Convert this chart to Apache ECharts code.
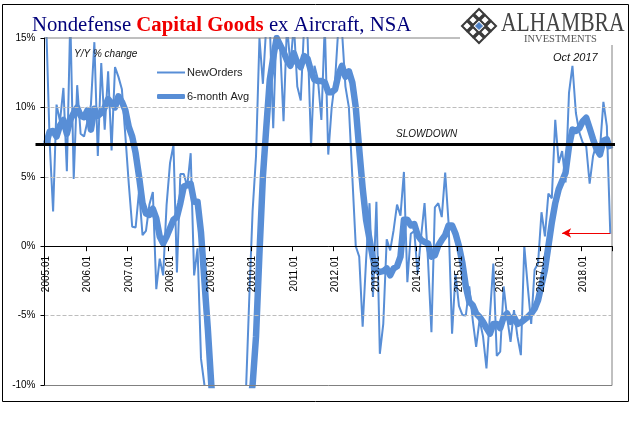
<!DOCTYPE html>
<html><head><meta charset="utf-8">
<style>html,body{margin:0;padding:0;background:#fff}#c{width:641px;height:421px}</style>
<script src="https://cdn.jsdelivr.net/npm/echarts@6/dist/echarts.min.js"></script>
</head><body><div id="c"></div>
<script>
const years=[2005,2006,2007,2008,2009,2010,2011,2012,2013,2014,2015,2016,2017,2018];
const months=['01','02','03','04','05','06','07','08','09','10','11','12'];
const categories=[];
years.forEach(y=>months.forEach(m=>{ if(y<2018||+m<=9) categories.push(y+'.'+m); }));
const yTicks=[-10,-5,0,5,10,15];
const newOrders=[
16,7.5,2.5,10.2,9,11.4,5.4,16.5,4.85,11.6,8.1,7.9,
9,10.2,14.7,6.5,13.2,8.4,12.6,6.9,12.9,12.2,11.3,8,
4.5,1.4,1.35,4,.8,1.1,3,3.9,-3.1,-.9,-2.1,3,
6,7.3,-1.9,5.2,5.2,4.3,6.7,-2.1,-.15,-8.1,-10,-14,
-18,-22,-25,-27,-28,-28,-26,-25,-20,-15,-11,-4,
2.5,6.5,15,11.7,16,16,8.5,16,14.5,9,16,13,
16,11.5,10.5,16,15,7.2,13,12,9.1,16,6.6,10,
12,16,15.5,11.5,10,5,0,-.75,-5.8,-1,3.1,-3.65,
3.2,-7.75,-5.6,.5,-.3,1.15,3,2.2,5.35,-2.6,.9,1.1,
-2,.7,3.1,-1,-6.2,2.8,3.1,2.1,5.3,1.6,-6.3,-2,
-4.3,-4.95,-5,-2.9,-5.3,-7.25,-5.3,-6.5,-8.8,-5,-1.25,-7.9,
-7.6,-2.9,-5.1,-6.9,-4.6,-6.5,-7.85,0,-2.9,-5.6,-1.7,-1.25,
2.45,.7,3.8,3.45,9.1,6,6.85,4.6,11.05,13,9.6,8.2,
7.45,7.2,4.5,6.5,7.4,7,10.4,8.65,.9
];
const avg6=[
7.4,8.25,8.3,7.9,8.7,9.1,8.1,9.1,9.6,10,9.4,9.3,
9.8,8.4,9.9,9.4,9.6,10,10.6,10.3,10,10.8,10.4,9.8,
8.6,7.9,6.7,5,3.1,2.35,2.25,2.7,2,.7,.2,.7,
1.3,1.9,2.1,3.1,4.3,4.4,4.5,3.2,3.2,1,-2.5,-6,
-10,-13,-16,-18,-20,-20,-19,-17,-15.5,-14,-13,-11.5,
-10,-6.5,-.5,5,8.6,12,13.6,15,14.5,14,13.4,13,
13.9,13.2,12.9,13.7,13.5,12.6,12,11.9,11.9,11.8,11.1,11.1,
11.3,12.4,13,12.2,12.6,11.8,10,7,4.2,1.9,.5,-.9,
-1.75,-1.85,-1.8,-1.6,-2.1,-1.6,-1.45,-.75,1.9,1.9,1.5,1.6,
.8,.45,.3,.2,-.75,-.65,.05,.45,.8,1.5,1.5,.9,
0,-1.2,-2.9,-4,-4.25,-4.85,-5.1,-5.45,-5.9,-6.3,-5.6,-5.6,
-5.9,-5.1,-4.85,-5.45,-5.1,-5.6,-5.5,-5.3,-5.1,-4.85,-4.5,-3.9,
-2.8,-1.7,0,1.7,3.1,4.1,4.7,5.3,7.2,8.4,8.3,8.5,
9,9.25,8.5,7.7,7,6.6,7.6,7.7,7
];
const BLUE='#588ed6';
const serif='"Liberation Serif","Times New Roman",serif';
const sans='"Liberation Sans",Arial,sans-serif';
const chart=echarts.init(document.getElementById('c'),null,{renderer:'canvas'});

// Alhambra logo: lattice of small diamonds
const logo=[];
const cx=479,cy=26,s=6;
function dia(x,y,r,style){return {type:'polygon',z:20,shape:{points:[[x,y-r],[x+r,y],[x,y+r],[x-r,y]]},style};}
const dark={fill:'#fff',stroke:'#3a3a3a',lineWidth:2};
[[0,-2],[-1,-1],[1,-1],[-2,0],[2,0],[-1,1],[1,1],[0,2]].forEach(p=>{
  logo.push(dia(cx+p[0]*s+0,cy+p[1]*s,5,dark));
});
logo.push(dia(cx,cy,6.5,{fill:'#fff',stroke:'#3a3a3a',lineWidth:1.5}));
logo.push(dia(cx,cy,3.5,{fill:'#4a7ec4',stroke:'#4a7ec4',lineWidth:1}));

function txt(x,y,t,style,extra){return Object.assign({type:'text',z:30,x,y,style:Object.assign({text:t,fill:'#111',textVerticalAlign:'middle'},style)},extra||{});}

const legendText={fontFamily:sans,fontSize:11,color:'#222',padding:[0,0,0,-3]};
chart.setOption({
  animation:false,
  backgroundColor:'#fff',
  title:{
    left:27,top:10,
    text:'{a|Nondefense }{b|Capital Goods}{a| ex Aircraft, NSA}',
    textStyle:{fontWeight:'normal',rich:{
      a:{fontFamily:serif,fontSize:20.75,fontWeight:'normal',color:'#00007a'},
      b:{fontFamily:serif,fontSize:20.75,fontWeight:'bold',color:'#f00000'}
    }}
  },
  legend:[
    {left:152,top:62,itemWidth:28,itemHeight:2,icon:'rect',selectedMode:false,textStyle:legendText,data:['NewOrders']},
    {left:152,top:86,itemWidth:28,itemHeight:5,icon:'roundRect',selectedMode:false,textStyle:legendText,data:['6-month Avg']}
  ],
  grid:{left:44.5,right:29,top:38,bottom:36,containLabel:false,outerBoundsMode:'none'},
  xAxis:{
    type:'category',data:categories,boundaryGap:true,z:10,
    axisLine:{onZero:true,lineStyle:{color:'#000',width:1}},
    axisTick:{show:true,interval:11,length:5,inside:false,lineStyle:{color:'#000',width:1}},
    axisLabel:{interval:11,rotate:90,margin:-129,fontFamily:sans,fontSize:10,color:'#000',hideOverlap:false},
    splitLine:{show:false}
  },
  yAxis:{
    type:'value',min:yTicks[0],max:yTicks[yTicks.length-1],interval:5,z:10,
    axisLine:{show:true,onZero:false,lineStyle:{color:'#000',width:1}},
    axisTick:{show:true,length:4,lineStyle:{color:'#000'}},
    axisLabel:{formatter:'{value}%',fontFamily:sans,fontSize:10,color:'#000',margin:9},
    splitLine:{show:true,showMinLine:false,showMaxLine:false,lineStyle:{color:'#bdbdbd',type:'dashed',width:1}}
  },
  series:[
    {name:'NewOrders',type:'line',data:newOrders,showSymbol:false,symbol:'none',
     lineStyle:{color:BLUE,width:2},itemStyle:{color:BLUE},z:3,
     markLine:{silent:true,symbol:['none','arrow'],symbolSize:[7,9],label:{show:false},
       lineStyle:{color:'#f00000',width:1,type:'solid'},
       data:[[{coord:['2018.09',.95]},{coord:['2017.07',.95]}]]}
    },
    {name:'6-month Avg',type:'line',data:avg6,showSymbol:false,symbol:'none',
     lineStyle:{color:BLUE,width:6.5,join:'round'},itemStyle:{color:BLUE},z:4}
  ],
  graphic:{elements:[
    {type:'rect',z:1,shape:{x:2.5,y:4.5,width:626,height:397},style:{fill:'none',stroke:'#000',lineWidth:1}},
    {type:'line',z:5,shape:{x1:44.5,y1:38,x2:460,y2:38},style:{stroke:'#808080',lineWidth:1}},
    {type:'line',z:5,shape:{x1:44.5,y1:385.5,x2:612,y2:385.5},style:{stroke:'#808080',lineWidth:1}},
    {type:'line',z:5,shape:{x1:612,y1:45,x2:612,y2:385.5},style:{stroke:'#808080',lineWidth:1}},
    {type:'line',z:25,shape:{x1:35.5,y1:144.5,x2:615,y2:144.5},style:{stroke:'#000',lineWidth:3}},
    txt(74,54,'Y/Y % change',{font:'italic 10px '+sans}),
    txt(396,134,'SLOWDOWN',{font:'italic 10px '+sans}),
    txt(553,58,'Oct 2017',{font:'italic 11px '+sans}),
    txt(501,24,'ALHAMBRA',{font:'27px '+serif,fill:'#444'},{scaleX:.8}),
    txt(524,39,'INVESTMENTS',{font:'10.5px '+serif,fill:'#555'})
  ].concat(logo)}
});
</script></body></html>
